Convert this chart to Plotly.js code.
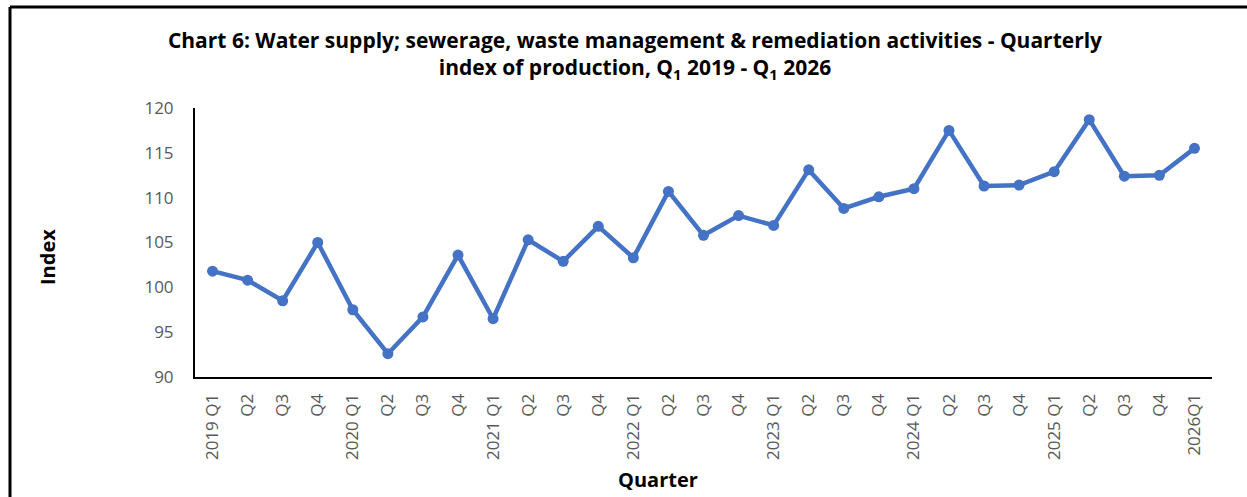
<!DOCTYPE html>
<html>
<head>
<meta charset="utf-8">
<script src="https://cdn.plot.ly/plotly-3.0.1.min.js"></script>
<style>
  html, body { margin: 0; padding: 0; background: #ffffff; }
  #chart { width: 1247px; height: 497px; }
</style>
</head>
<body>
<div id="chart"></div>
<script>
const quarters = [
  "2019 Q1","2019 Q2","2019 Q3","2019 Q4",
  "2020 Q1","2020 Q2","2020 Q3","2020 Q4",
  "2021 Q1","2021 Q2","2021 Q3","2021 Q4",
  "2022 Q1","2022 Q2","2022 Q3","2022 Q4",
  "2023 Q1","2023 Q2","2023 Q3","2023 Q4",
  "2024 Q1","2024 Q2","2024 Q3","2024 Q4",
  "2025 Q1","2025 Q2","2025 Q3","2025 Q4",
  "2026 Q1"
];
const tickLabels = [
  "2019 Q1","Q2","Q3","Q4",
  "2020 Q1","Q2","Q3","Q4",
  "2021 Q1","Q2","Q3","Q4",
  "2022 Q1","Q2","Q3","Q4",
  "2023 Q1","Q2","Q3","Q4",
  "2024 Q1","Q2","Q3","Q4",
  "2025 Q1","Q2","Q3","Q4",
  "2026Q1"
];
const indexValues = [
  101.8, 100.8, 98.5, 105.0,
  97.5, 92.6, 96.7, 103.6,
  96.5, 105.3, 102.9, 106.8,
  103.3, 110.7, 105.8, 108.0,
  106.9, 113.1, 108.8, 110.1,
  111.0, 117.5, 111.3, 111.4,
  112.9, 118.7, 112.4, 112.5,
  115.5
];

const W = 1247, H = 497;
const M = { l: 195, r: 35, t: 108, b: 120 };
const pw = W - M.l - M.r, ph = H - M.t - M.b;
const px = v => (v - M.l) / pw;
const py = v => (H - M.b - v) / ph;

const trace = {
  type: 'scatter',
  mode: 'lines+markers',
  x: quarters,
  y: indexValues,
  line: { color: '#4472C4', width: 4.5 },
  marker: { color: '#4472C4', size: 11 },
  hoverinfo: 'x+y'
};

const layout = {
  width: W, height: H,
  margin: M,
  paper_bgcolor: '#ffffff',
  plot_bgcolor: '#ffffff',
  showlegend: false,
  font: { family: 'Open Sans, sans-serif', color: '#595959', size: 16 },
  title: {
    text: 'Chart 6: Water supply; sewerage, waste management &amp; remediation activities - Quarterly<br>index of production, Q<sub>1</sub> 2019 - Q<sub>1</sub> 2026',
    font: { family: 'Open Sans, sans-serif', size: 21, color: '#000000', weight: 'bold' },
    xref: 'container', x: 635 / W, xanchor: 'center',
    yref: 'container', y: 1 - 48 / H, yanchor: 'middle'
  },
  xaxis: {
    type: 'category',
    tickvals: quarters,
    ticktext: tickLabels,
    tickangle: -90,
    range: [-0.5, quarters.length - 0.5],
    showgrid: false,
    zeroline: false,
    showline: true,
    linecolor: '#000000',
    linewidth: 2,
    ticks: '',
    ticklabelstandoff: 8,
    tickfont: { family: 'Open Sans, sans-serif', size: 17, color: '#595959' },
    fixedrange: true
  },
  yaxis: {
    range: [90, 120],
    tickvals: [90, 95, 100, 105, 110, 115, 120],
    showgrid: false,
    zeroline: false,
    showline: true,
    linecolor: '#000000',
    linewidth: 2,
    ticks: '',
    ticklabelstandoff: 16,
    tickfont: { family: 'Open Sans, sans-serif', size: 17, color: '#595959' },
    fixedrange: true
  },
  annotations: [
    {
      text: '<b>Quarter</b>',
      xref: 'paper', yref: 'paper',
      x: px(658), y: py(479),
      xanchor: 'center', yanchor: 'middle',
      showarrow: false,
      font: { family: 'Open Sans, sans-serif', size: 20, color: '#000000' }
    },
    {
      text: '<b>Index</b>',
      xref: 'paper', yref: 'paper',
      x: px(47), y: py(257),
      xanchor: 'center', yanchor: 'middle',
      textangle: -90,
      showarrow: false,
      font: { family: 'Open Sans, sans-serif', size: 20, color: '#000000' }
    }
  ],
  shapes: [
    {
      type: 'line', xref: 'paper', yref: 'paper',
      x0: px(10), x1: px(10), y0: py(7), y1: py(H + 5),
      line: { color: '#000000', width: 3 }
    },
    {
      type: 'line', xref: 'paper', yref: 'paper',
      x0: px(10), x1: px(W + 5), y0: py(7), y1: py(7),
      line: { color: '#000000', width: 3 }
    }
  ]
};

Plotly.newPlot('chart', [trace], layout, { displayModeBar: false, staticPlot: true });
</script>
</body>
</html>
